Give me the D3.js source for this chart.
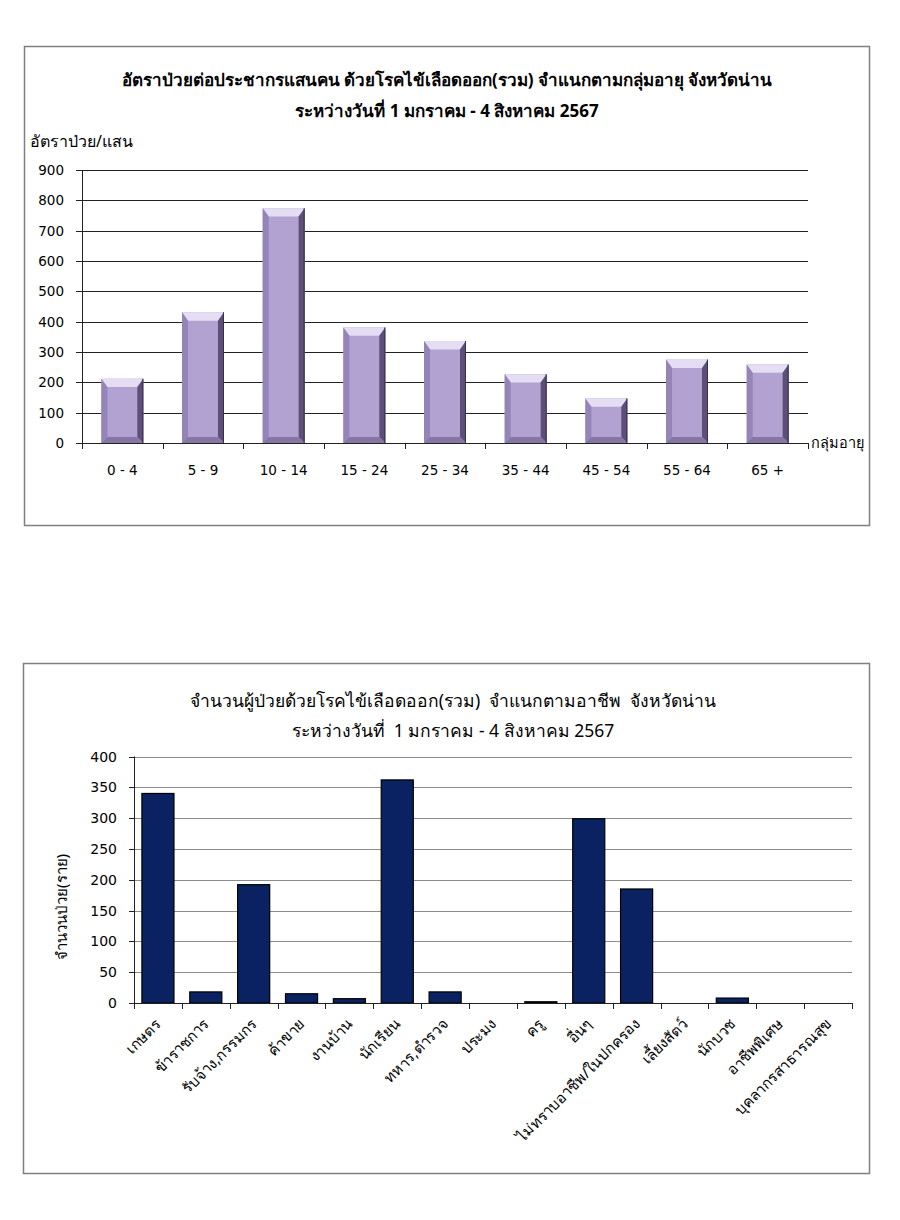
<!DOCTYPE html>
<html><head><meta charset="utf-8">
<script src="https://cdn.jsdelivr.net/npm/d3@7"></script>
<style>
body{margin:0;background:#fff;}
svg{display:block;font-family:Tahoma,"Noto Sans","DejaVu Sans",sans-serif;}
text{white-space:pre;}
.num{font-family:"DejaVu Sans",Tahoma,sans-serif;}
</style></head>
<body><svg id="c" width="900" height="1220"></svg>
<script>
// ---- Chart 1 data ----
const ageGroups = ["0 - 4","5 - 9","10 - 14","15 - 24","25 - 34","35 - 44","45 - 54","55 - 64","65 +"];
const ageRates = [212, 431, 774, 381, 336, 227, 147, 275, 259];
const rateTicks = [0,100,200,300,400,500,600,700,800,900];
const title1 = ["อัตราป่วยต่อประชากรแสนคน ด้วยโรคไข้เลือดออก(รวม) จำแนกตามกลุ่มอายุ จังหวัดน่าน","ระหว่างวันที่ 1 มกราคม - 4 สิงหาคม 2567"];
const yLabel1 = "อัตราป่วย/แสน";
const xLabel1 = "กลุ่มอายุ";

// ---- Chart 2 data ----
const occupations = ["เกษตร","ข้าราชการ","รับจ้าง,กรรมกร","ค้าขาย","งานบ้าน","นักเรียน","ทหาร,ตำรวจ","ประมง","ครู","อื่นๆ","ไม่ทราบอาชีพ/ในปกครอง","เลี้ยงสัตว์","นักบวช","อาชีพพิเศษ","บุคลากรสาธารณสุข"];
const occCounts = [340, 18, 192, 15, 7, 362, 18, 0, 2, 299, 185, 0, 8, 0, 0];
const countTicks = [0,50,100,150,200,250,300,350,400];
const title2 = ["จำนวนผู้ป่วยด้วยโรคไข้เลือดออก(รวม)  จำแนกตามอาชีพ  จังหวัดน่าน","ระหว่างวันที่  1 มกราคม - 4 สิงหาคม 2567"];
const yLabel2 = "จำนวนป่วย(ราย)";

const svg = d3.select("#c");

// ---------- Chart 1 ----------
svg.append("rect").attr("x",24.5).attr("y",46.5).attr("width",845).attr("height",479)
  .attr("fill","#fff").attr("stroke","#808080").attr("stroke-width",1.5);

const g1 = svg.append("g");
g1.selectAll("text.t1").data(title1).enter().append("text")
  .attr("x",447).attr("y",(d,i)=>86+i*31).attr("text-anchor","middle")
  .attr("font-size",17).attr("font-weight","bold").attr("fill","#000").text(d=>d);
g1.append("text").attr("x",30).attr("y",147).attr("font-size",16).text(yLabel1);

const x1 = d3.scaleBand().domain(ageGroups).range([82,808]).paddingInner(0.48).paddingOuter(0.24);
const y1 = d3.scaleLinear().domain([0,900]).range([443,170]);

g1.selectAll("line.grid").data(rateTicks).enter().append("line")
  .attr("x1",76).attr("x2",808).attr("y1",d=>Math.round(y1(d))+0.5).attr("y2",d=>Math.round(y1(d))+0.5)
  .attr("stroke","#222").attr("stroke-width",1);
g1.append("line").attr("x1",82.5).attr("x2",82.5).attr("y1",170).attr("y2",443).attr("stroke","#222");
g1.selectAll("text.yt").data(rateTicks).enter().append("text").attr("class","num")
  .attr("x",64).attr("y",d=>y1(d)+5).attr("text-anchor","end").attr("font-size",13.5).text(d=>d);
const step1 = (808-82)/ageGroups.length;
g1.selectAll("line.xt").data(d3.range(ageGroups.length+1)).enter().append("line")
  .attr("x1",d=>Math.round(82+d*step1)+0.5).attr("x2",d=>Math.round(82+d*step1)+0.5)
  .attr("y1",443).attr("y2",449).attr("stroke","#222");
g1.selectAll("text.xl").data(ageGroups).enter().append("text").attr("class","num")
  .attr("x",d=>x1(d)+x1.bandwidth()/2).attr("y",475).attr("text-anchor","middle")
  .attr("font-size",13.5).text(d=>d);
g1.append("text").attr("x",811).attr("y",448).attr("font-size",14.5).text(xLabel1);

const bars1 = g1.selectAll("g.bar").data(ageGroups.map((c,i)=>({c,v:ageRates[i]}))).enter().append("g");
const bv = 6;
bars1.each(function(d){
  const g = d3.select(this);
  const x0 = x1(d.c), w = x1.bandwidth(), yt = y1(d.v), yb = y1(0);
  const x2 = x0+w;
  g.append("rect").attr("x",x0).attr("y",yt).attr("width",w).attr("height",yb-yt).attr("fill","#b1a2d1");
  g.append("polygon").attr("points",[[x0,yt],[x2,yt],[x2-bv,yt+bv*1.4],[x0+bv,yt+bv*1.4]].join(" ")).attr("fill","#e4ddf3");
  g.append("polygon").attr("points",[[x0,yt],[x0+bv,yt+bv*1.4],[x0+bv,yb-bv],[x0,yb]].join(" ")).attr("fill","#9484b8");
  g.append("polygon").attr("points",[[x2,yt],[x2-bv,yt+bv*1.4],[x2-bv,yb-bv],[x2,yb]].join(" ")).attr("fill","#5e4f78");
  g.append("polygon").attr("points",[[x0,yb],[x0+bv,yb-bv],[x2-bv,yb-bv],[x2,yb]].join(" ")).attr("fill","#8676a6");
  g.append("line").attr("x1",x2-0.5).attr("x2",x2-0.5).attr("y1",yt).attr("y2",yb).attr("stroke","#3a304a");
});

// ---------- Chart 2 ----------
svg.append("rect").attr("x",23.5).attr("y",663.5).attr("width",846).attr("height",510)
  .attr("fill","#fff").attr("stroke","#808080").attr("stroke-width",1.5);
const g2 = svg.append("g");
g2.selectAll("text.t2").data(title2).enter().append("text")
  .attr("x",453).attr("y",(d,i)=>707+i*30).attr("text-anchor","middle")
  .attr("font-size",17.5).attr("fill","#000").text(d=>d);

const x2s = d3.scaleBand().domain(occupations).range([134,852]).paddingInner(0.33).paddingOuter(0.165);
const y2 = d3.scaleLinear().domain([0,400]).range([1003,756.5]);

g2.selectAll("line.grid").data(countTicks.filter(d=>d>0)).enter().append("line")
  .attr("x1",134).attr("x2",852).attr("y1",d=>Math.round(y2(d))+0.5).attr("y2",d=>Math.round(y2(d))+0.5)
  .attr("stroke","#8c8c8c").attr("stroke-width",1);
g2.selectAll("line.ytk").data(countTicks).enter().append("line")
  .attr("x1",129).attr("x2",134).attr("y1",d=>Math.round(y2(d))+0.5).attr("y2",d=>Math.round(y2(d))+0.5)
  .attr("stroke","#222");
g2.append("line").attr("x1",134.5).attr("x2",134.5).attr("y1",756.5).attr("y2",1003).attr("stroke","#222");
g2.selectAll("text.yt").data(countTicks).enter().append("text").attr("class","num")
  .attr("x",117).attr("y",d=>y2(d)+5).attr("text-anchor","end").attr("font-size",14).text(d=>d);
g2.append("text").attr("transform","translate(67,907) rotate(-90)").attr("text-anchor","middle")
  .attr("font-size",15).text(yLabel2);

g2.selectAll("rect.bar").data(occupations.map((c,i)=>({c,v:occCounts[i]}))).enter().append("rect")
  .attr("x",d=>x2s(d.c)).attr("y",d=>y2(d.v)).attr("width",x2s.bandwidth()).attr("height",d=>y2(0)-y2(d.v))
  .attr("fill","#0b2262").attr("stroke","#000").attr("stroke-width",1.2);

g2.append("line").attr("x1",134).attr("x2",852).attr("y1",1003.5).attr("y2",1003.5).attr("stroke","#222");
const step2 = (852-134)/occupations.length;
g2.selectAll("line.xt").data(d3.range(occupations.length+1)).enter().append("line")
  .attr("x1",d=>Math.round(134+d*step2)+0.5).attr("x2",d=>Math.round(134+d*step2)+0.5)
  .attr("y1",1003).attr("y2",1009).attr("stroke","#222");
g2.selectAll("text.xl").data(occupations).enter().append("text")
  .attr("transform",d=>`translate(${x2s(d)+x2s.bandwidth()/2+4},${1025}) rotate(-45)`)
  .attr("text-anchor","end").attr("font-size",15).text(d=>d);
</script></body></html>
